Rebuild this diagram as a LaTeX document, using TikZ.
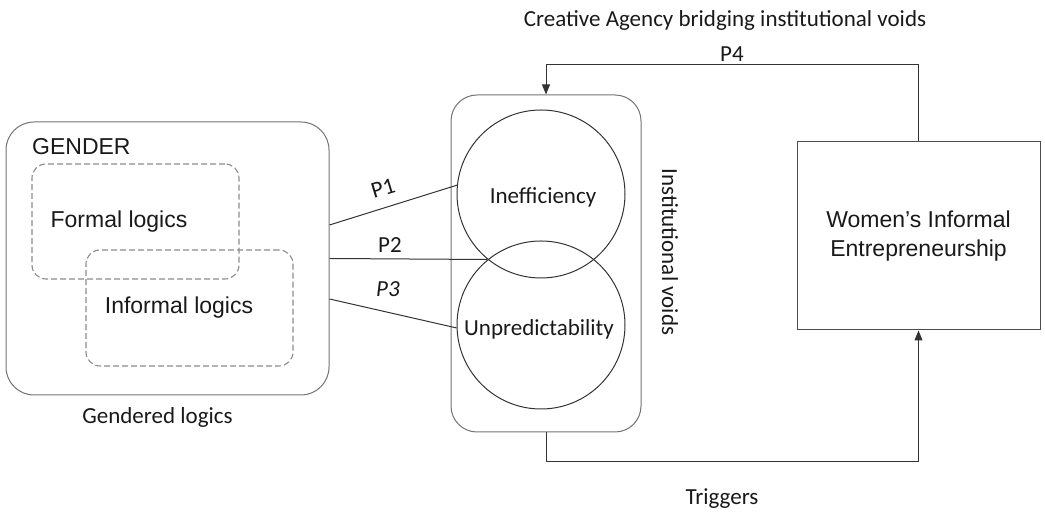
\documentclass[tikz,border=0pt]{standalone}
\usepackage{fontspec}
\setmainfont{Carlito}
\newfontfamily\arialf{Liberation Sans}
\usetikzlibrary{arrows.meta,calc}
\begin{document}
\begin{tikzpicture}[x=1pt,y=1pt,
  txt/.style={font=\fontsize{23}{29}\selectfont, text=black!90, inner sep=0pt},
  atxt/.style={font=\arialf\fontsize{23}{29}\selectfont, text=black!90, inner sep=0pt, align=center},
  rbox/.style={draw=black!55, line width=1pt, rounded corners=28pt, inner sep=0pt},
  dbox/.style={draw=black!45, line width=1.1pt, dash pattern=on 6pt off 3pt, rounded corners=14pt, inner sep=0pt},
  circ/.style={draw=black!80, line width=1pt, circle, inner sep=0pt, minimum size=168pt},
  conn/.style={draw=black!80, line width=1pt},
  arr/.style={conn, -{Triangle[length=10pt,width=8pt]}}]
\useasboundingbox (0,0) rectangle (1045,513);
% Gendered logics
\node[rbox, minimum width=323pt, minimum height=273pt] (gender) at (167.5,254.5) {};
\node[dbox, minimum width=207pt, minimum height=115pt] (formal) at (135.5,291.5) {};
\node[dbox, minimum width=207pt, minimum height=116pt] (informal) at (189.5,205) {};
\node[atxt, anchor=west] (gtitle) at (32,366) {GENDER};
\node[atxt] (ftext) at (119,291) {Formal logics};
\node[atxt] (itext) at (179,205) {Informal logics};
\node[txt] (glab) at (157.5,96) {Gendered logics};
% Institutional voids
\node[rbox, rounded corners=26pt, minimum width=190pt, minimum height=337pt] (inst) at (546,249.5) {};
\node[circ] (ineff) at (541,319) {};
\node[circ] (unpred) at (541,188) {};
\node[txt] (inefft) at (543,316) {Inefficiency};
\node[txt] (unpredt) at (539,184) {Unpredictability};
\node[txt, rotate=-90] (ivlab) at (670,261) {Institutional voids};
% Women's box
\node[draw=black!70, line width=1pt, minimum width=243pt, minimum height=188pt, atxt] (women) at (918.5,277) {Women’s Informal\\Entrepreneurship};
% connectors P1-P3
\coordinate (s1) at ($(gender.east)+(0,33.5)$);
\coordinate (s3) at ($(gender.east)+(0,-40.5)$);
\coordinate (x2) at ($(ineff.center)!0.5!(unpred.center)+(-54,0)$);
\draw[conn] (s1) -- (ineff.174);
\draw[conn] (gender.east) -- (x2);
\draw[conn] (s3) -- (unpred.182);
\node[txt, rotate=17] (p1) at (383,325) {P1};
\node[txt] (p2) at (390,268) {P2};
\node[txt] (p3) at (388,224) {\itshape P3};
% feedback loops
\coordinate (tr) at (women.north |- 0,448);
\coordinate (tl) at (inst.north |- 0,448);
\draw[arr] (women.north) -- (tr) -- (tl) -- (inst.north);
\coordinate (bl) at (inst.south |- 0,51);
\coordinate (br) at (women.south |- 0,51);
\draw[arr] (inst.south) -- (bl) -- (br) -- (women.south);
\node[txt] (p4) at (732,459) {P4};
\node[txt] (creative) at (725,492) {Creative Agency bridging institutional voids};
\node[txt] (trig) at (722,14) {Triggers};
\end{tikzpicture}
\end{document}
